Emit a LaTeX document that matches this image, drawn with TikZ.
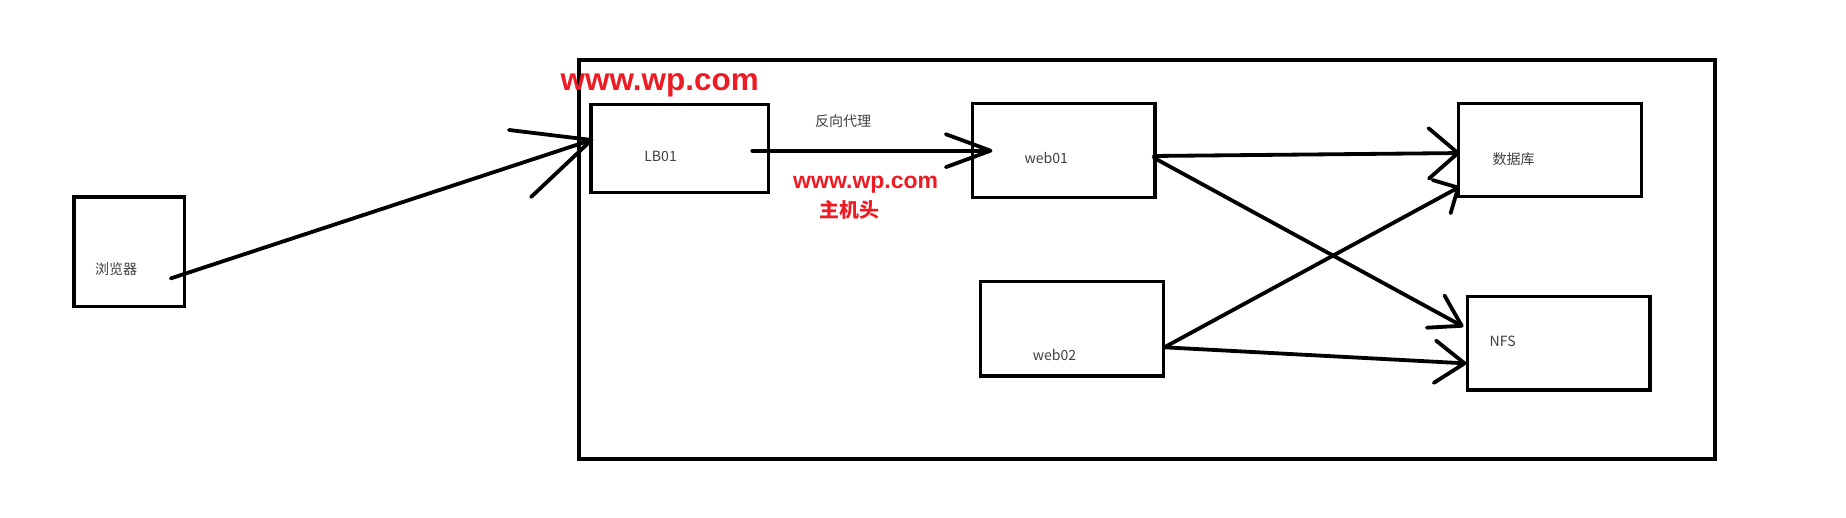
\documentclass[tikz,border=0pt]{standalone}
\usepackage{fontspec}
\setmainfont{Liberation Sans}
\newfontfamily\cjk{Noto Sans CJK SC}
\usetikzlibrary{arrows.meta, fit}
\definecolor{paintred}{RGB}{237,28,36}
\tikzset{x=0.025cm, y=-0.025cm, % one unit = one pixel of the sketch
server/.style={ % Sets the properties for each box
draw, line width=2pt, inner sep=0pt},
tag/.style={ % Gray labels inside the boxes
font=\cjk\fontsize{8.5}{10}\selectfont, text=black!75,
anchor=base west, inner sep=0pt},
note/.style={ % Red remarks
font=\bfseries, text=paintred, anchor=base west, inner sep=0pt},
link/.style 2 args={ % Hand drawn arrows, barb length and width
draw, line width=2.3pt, line cap=round, line join=round,
-{Straight Barb[length=#1, width=#2, round]}}}

\begin{document}
\begin{tikzpicture}
    \useasboundingbox (0,0) rectangle (1568,439.2);

    % boxes
    \node[server, fit={(62.9,167.4) (157,260.5)}] (browser) {};
    \node[server, line width=2.4pt, fit={(492,51) (1457,390)}] (site) {};
    \node[server, fit={(502,88.6) (652.8,163.7)}] (lb) {};
    \node[server, fit={(826,87.8) (981,168)}] (web1) {};
    \node[server, fit={(833,239.3) (988,319.5)}] (web2) {};
    \node[server, fit={(1239,87.8) (1394,167.2)}] (db) {};
    \node[server, fit={(1246.4,252) (1401.5,331.4)}] (nfs) {};

    % labels
    \node[tag] (browserT) at (80.5,233.5) {浏览器};
    \node[tag] (lbT) at (547,137.4) {LB01};
    \node[tag] (web1T) at (870,139) {web01};
    \node[tag] (web2T) at (877,306.5) {web02};
    \node[tag] (dbT) at (1267.5,139.5) {数据库};
    \node[tag] (nfsT) at (1265,294.5) {NFS};
    \node[tag] (proxyT) at (692,107.5) {反向代理};

    \node[note, font=\bfseries\fontsize{19}{22}\selectfont] (siteT) at (476,76.5) {www.wp.com};
    \node[note, font=\bfseries\fontsize{13.9}{16}\selectfont] (hostT) at (673.5,160) {www.wp.com};
    \node[note, font=\cjk\bfseries\fontsize{12}{14}\selectfont] (hostZh) at (696,184.5) {主机头};

    % ports
    \coordinate (brOut) at (145,236.5);
    \coordinate (lbIn) at (504,118.4);
    \coordinate (lbOut) at (639,128);
    \coordinate (w1In) at (843,128);
    \coordinate (w1OutA) at (980,132.5);
    \coordinate (w1OutB) at (980,134);
    \coordinate (w2Out) at (989,295);
    \coordinate (dbInA) at (1240,130);
    \coordinate (dbInB) at (1240,158.6);
    \coordinate (nfsInA) at (1243,277.5);
    \coordinate (nfsInB) at (1245.6,308.7);

    % arrows
    \path[link={16mm}{15mm}] (brOut) -- (lbIn);
    \path[link={9.5mm}{7mm}] (lbOut) -- (w1In);
    \path[link={6.2mm}{10.7mm}] (w1OutA) -- (dbInA);
    \path[link={6.3mm}{7.8mm}] (w1OutB) -- (nfsInA);
    \path[link={4mm}{8mm}] (w2Out) -- (dbInB);
    \path[link={6.3mm}{9mm}] (w2Out) -- (nfsInB);

\end{tikzpicture}
\end{document}
